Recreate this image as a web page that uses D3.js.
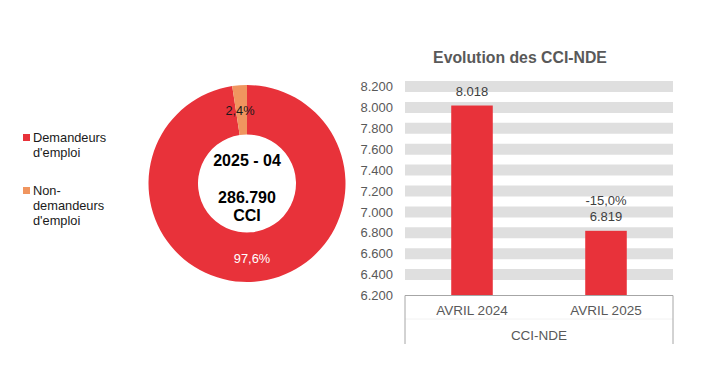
<!DOCTYPE html>
<html><head><meta charset="utf-8">
<script src="https://cdn.jsdelivr.net/npm/d3@7"></script>
<style>body{margin:0;background:#fff}svg{display:block;font-family:"Liberation Sans",Arial,sans-serif}</style>
</head><body><svg id="c" width="707" height="367"></svg>
<script>
const pieCategories = ["Demandeurs d'emploi", "Non-demandeurs d'emploi"];
const pieValues = [97.6, 2.4];
const pieLabels = ["97,6%", "2,4%"];
const pieColors = ["#e8323a", "#f0955f"];
const centerLines = ["2025 - 04", "286.790", "CCI"];

const barCategories = ["AVRIL 2024", "AVRIL 2025"];
const barValues = [8018, 6819];
const barLabels = ["8.018", "6.819"];
const barChange = ["", "-15,0%"];
const yTicks = [6200, 6400, 6600, 6800, 7000, 7200, 7400, 7600, 7800, 8000, 8200];
const groupLabel = "CCI-NDE";
const barTitle = "Evolution des CCI-NDE";

const svg = d3.select("#c");

// Legend
const legendLines = [["Demandeurs", "d'emploi"], ["Non-", "demandeurs", "d'emploi"]];
const legendY = [138, 191];
legendLines.forEach((lines, i) => {
  const g = svg.append("g").attr("transform", `translate(23,${legendY[i]})`);
  g.append("rect").attr("x", 0).attr("y", -4).attr("width", 7).attr("height", 7).attr("fill", pieColors[i]);
  lines.forEach((t, j) => {
    g.append("text").attr("x", 10).attr("y", j * 15).attr("dy", "0.35em")
      .attr("font-size", 12.8).attr("fill", "#1a1a1a").text(t);
  });
});

// Donut
const cx = 247, cy = 183.5, rOut = 98.5, rIn = 49;
const pie = d3.pie().sort(null)(pieValues);
const arc = d3.arc().innerRadius(rIn).outerRadius(rOut);
const pg = svg.append("g").attr("transform", `translate(${cx},${cy})`);
pg.selectAll("path").data(pie).join("path").attr("d", arc).attr("fill", (d, i) => pieColors[i]);
const labelPos = [[5, 75.5], [-7, -73]];
pie.forEach((d, i) => {
  pg.append("text").attr("x", labelPos[i][0]).attr("y", labelPos[i][1]).attr("dy", "0.35em")
    .attr("text-anchor", "middle").attr("font-size", 12.8)
    .attr("fill", i === 0 ? "#ffffff" : "#1a1a1a").text(pieLabels[i]);
});
const cYs = [-23.5, 13.5, 31.5];
centerLines.forEach((t, i) => {
  pg.append("text").attr("x", 0).attr("y", cYs[i]).attr("dy", "0.35em").attr("text-anchor", "middle")
    .attr("font-size", 16).attr("font-weight", "bold").attr("fill", "#000").text(t);
});

// Bar chart
const x0 = 405, x1 = 673;
const y = d3.scaleLinear().domain([6200, 8200]).range([295.5, 86.5]);
const x = d3.scaleBand().domain(barCategories).range([x0, x1]).paddingInner(0.69).paddingOuter(0.345);

svg.append("text").attr("x", 520).attr("y", 57).attr("dy", "0.35em").attr("text-anchor", "middle")
  .attr("font-size", 15.8).attr("font-weight", "bold").attr("fill", "#595959").text(barTitle);

svg.append("g").selectAll("line").data(yTicks.filter(t => t > 6200)).join("line")
  .attr("x1", x0).attr("x2", x1).attr("y1", d => y(d)).attr("y2", d => y(d))
  .attr("stroke", "#dfdfdf").attr("stroke-width", 11);

const yAxis = d3.axisLeft(y).tickValues(yTicks).tickSize(0).tickPadding(0)
  .tickFormat(d => d3.format(",")(d).replace(/,/g, "."));
const ya = svg.append("g").attr("transform", "translate(393,0)").call(yAxis);
ya.select(".domain").remove();
ya.selectAll("text").attr("font-size", 13).attr("fill", "#595959").attr("font-family", "Liberation Sans, Arial, sans-serif");

svg.append("g").selectAll("rect").data(barValues).join("rect")
  .attr("x", (d, i) => x(barCategories[i])).attr("width", x.bandwidth())
  .attr("y", d => y(d)).attr("height", d => y(6200) - y(d)).attr("fill", "#e8323a");

barValues.forEach((v, i) => {
  const cxb = x(barCategories[i]) + x.bandwidth() / 2;
  svg.append("text").attr("x", cxb).attr("y", y(v) - 14.5).attr("dy", "0.35em").attr("text-anchor", "middle")
    .attr("font-size", 13).attr("fill", "#404040").text(barLabels[i]);
  if (barChange[i]) {
    svg.append("text").attr("x", cxb).attr("y", y(v) - 30.5).attr("dy", "0.35em").attr("text-anchor", "middle")
      .attr("font-size", 13).attr("fill", "#404040").text(barChange[i]);
  }
});

const xa = svg.append("g").attr("transform", `translate(0,${y(6200)})`)
  .call(d3.axisBottom(x).tickSize(0).tickPadding(10));
xa.select(".domain").remove();
xa.selectAll("text").attr("font-size", 13.5).attr("fill", "#595959").attr("font-family", "Liberation Sans, Arial, sans-serif");
svg.append("line").attr("x1", x0).attr("x2", x1).attr("y1", y(6200)).attr("y2", y(6200)).attr("stroke", "#a6a6a6");
svg.append("line").attr("x1", x0).attr("x2", x1).attr("y1", 319).attr("y2", 319).attr("stroke", "#f2f2f2");
[x0, x1].forEach(xx => svg.append("line").attr("x1", xx).attr("x2", xx).attr("y1", y(6200)).attr("y2", 344).attr("stroke", "#a6a6a6"));
svg.append("text").attr("x", (x0 + x1) / 2).attr("y", 335).attr("dy", "0.35em").attr("text-anchor", "middle")
  .attr("font-size", 13.5).attr("fill", "#595959").text(groupLabel);
</script></body></html>
